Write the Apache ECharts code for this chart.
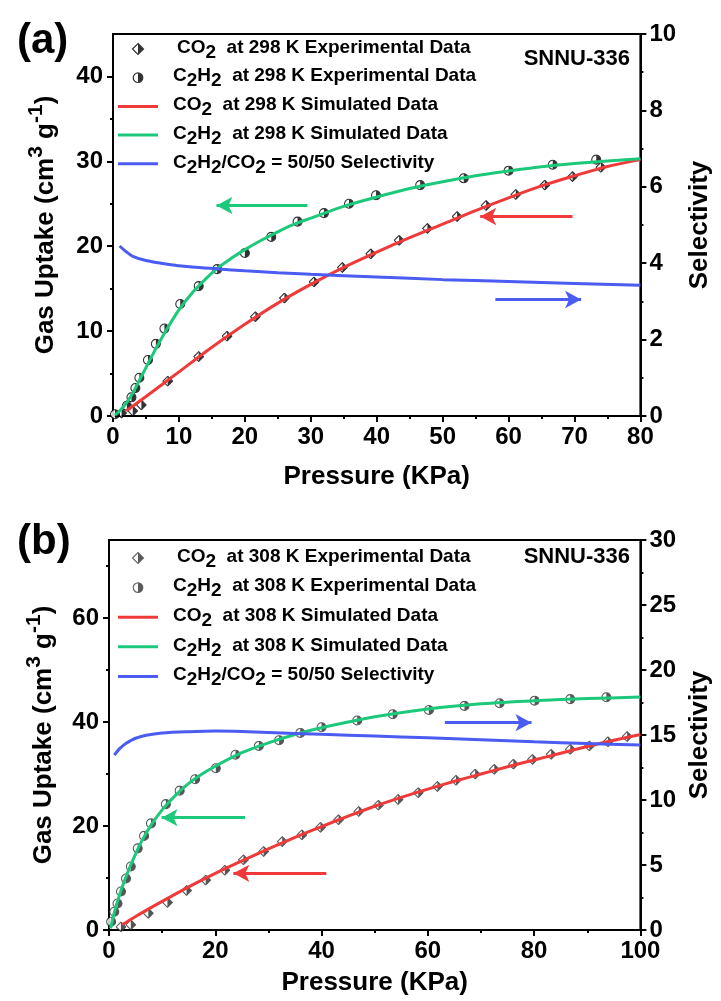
<!DOCTYPE html>
<html><head><meta charset="utf-8">
<script src="https://cdn.jsdelivr.net/npm/echarts@6/dist/echarts.min.js"></script>
<style>html,body{margin:0;padding:0;background:#fff}#c{width:721px;height:1001px}</style>
</head><body><div id="c"></div>
<script>
// ---------- Panel (a): 298 K ----------
const aCo2ExpP = [1.3, 3.0, 4.3, 8.3, 13.0, 17.3, 21.6, 26.0, 30.5, 34.8, 39.1, 43.4, 47.7, 52.2, 56.6, 61.1, 65.5, 69.7, 74.0];
const aCo2ExpU = [0.35, 0.6, 1.3, 4.1, 7.0, 9.4, 11.7, 13.9, 15.8, 17.5, 19.1, 20.7, 22.1, 23.5, 24.8, 26.1, 27.2, 28.2, 29.3];
const aC2h2ExpP = [0.3, 2.1, 2.8, 3.4, 4.0, 5.3, 6.5, 7.8, 10.2, 13.0, 15.8, 20.0, 24.0, 28.0, 32.0, 35.8, 39.9, 46.6, 53.2, 60.0, 66.7, 73.3];
const aC2h2ExpU = [0.2, 1.2, 2.2, 3.3, 4.5, 6.6, 8.5, 10.3, 13.2, 15.3, 17.3, 19.2, 21.1, 22.9, 23.9, 25.0, 26.0, 27.2, 28.0, 28.9, 29.6, 30.2];
const aCo2SimP = [2, 5, 10, 15, 20, 25, 30, 35, 40, 45, 50, 55, 60, 65, 70, 75, 80];
const aCo2SimU = [0.6, 2.3, 5.2, 8.1, 10.8, 13.3, 15.5, 17.5, 19.3, 21.0, 22.6, 24.2, 25.7, 27.1, 28.3, 29.4, 30.2];
const aC2h2SimP = [0.3, 1, 2, 3, 4, 5, 6, 8, 10, 12, 14, 16, 18, 20, 22.5, 25, 27.5, 30, 35, 40, 45, 50, 55, 60, 65, 70, 75, 80];
const aC2h2SimU = [0.1, 0.6, 1.5, 2.7, 4.2, 5.7, 7.2, 10.0, 12.5, 14.5, 16.1, 17.5, 18.6, 19.6, 20.7, 21.7, 22.6, 23.3, 24.7, 25.8, 26.8, 27.6, 28.3, 28.85, 29.35, 29.75, 30.05, 30.3];
const aSelP = [1, 2, 3, 5, 8, 12, 16, 20, 25, 30, 40, 50, 60, 70, 80];
const aSelS = [4.45, 4.3, 4.18, 4.07, 3.98, 3.9, 3.85, 3.8, 3.75, 3.71, 3.64, 3.57, 3.52, 3.47, 3.42];
// arrows: [x1, y1, x2, y2] in data units (tail -> head)
const aArrowC2h2 = [29.5, 24.8, 15.7, 24.8];
const aArrowCo2 = [69.7, 23.5, 55.7, 23.5];
const aArrowSel = [58.0, 3.05, 71.0, 3.05];

// ---------- Panel (b): 308 K ----------
const bCo2ExpP = [2.25, 4.1, 7.4, 11.0, 14.6, 18.2, 21.8, 25.3, 29.1, 32.6, 36.3, 39.8, 43.2, 47.0, 50.7, 54.4, 58.2, 61.8, 65.3, 68.9, 72.5, 76.1, 79.7, 83.2, 86.8, 90.4, 93.9, 97.5];
const bCo2ExpU = [0.6, 1.0, 3.2, 5.3, 7.6, 9.6, 11.5, 13.5, 15.1, 17.0, 18.3, 19.75, 21.2, 22.8, 24.0, 25.1, 26.4, 27.6, 28.8, 30.0, 30.9, 31.9, 32.8, 33.8, 34.75, 35.4, 36.2, 37.2];
const bC2h2ExpP = [0.4, 1.0, 1.6, 2.25, 3.2, 4.1, 5.4, 6.6, 7.9, 10.7, 13.3, 16.2, 20.1, 23.8, 28.2, 32.0, 36.0, 40.0, 46.7, 53.4, 60.2, 66.9, 73.5, 80.1, 86.8, 93.6];
const bC2h2ExpU = [1.6, 3.5, 5.1, 7.4, 9.9, 12.2, 15.7, 18.1, 20.5, 24.2, 26.8, 29.0, 31.1, 33.7, 35.4, 36.5, 37.9, 39.0, 40.3, 41.5, 42.3, 43.1, 43.6, 44.1, 44.4, 44.75];
const bCo2SimP = [2.5, 5, 10, 15, 20, 25, 30, 35, 40, 45, 50, 55, 60, 65, 70, 75, 80, 85, 90, 95, 100];
const bCo2SimU = [1.0, 2.6, 5.5, 8.3, 10.9, 13.3, 15.6, 17.8, 19.9, 21.9, 23.8, 25.5, 27.1, 28.6, 30.0, 31.4, 32.7, 34.0, 35.3, 36.5, 37.6];
const bC2h2SimP = [0.3, 1, 2, 3, 4, 5, 6, 8, 10, 12.5, 15, 17.5, 20, 25, 30, 35, 40, 45, 50, 60, 70, 80, 90, 100];
const bC2h2SimU = [0.3, 3.4, 6.8, 9.7, 12.3, 14.6, 16.8, 20.3, 23.1, 25.9, 28.2, 30.0, 31.5, 34.1, 36.0, 37.6, 38.9, 40.0, 41.0, 42.5, 43.5, 44.1, 44.5, 44.8];
const bSelP = [1, 2, 3, 4, 5, 7, 10, 15, 20, 25, 30, 40, 50, 60, 70, 80, 90, 100];
const bSelS = [13.45, 13.95, 14.3, 14.55, 14.75, 14.98, 15.15, 15.25, 15.3, 15.27, 15.2, 15.05, 14.92, 14.78, 14.63, 14.48, 14.35, 14.23];
const bArrowC2h2 = [25.6, 21.6, 9.9, 21.6];
const bArrowCo2 = [40.9, 10.9, 23.4, 10.9];
const bArrowSel = [63.2, 15.95, 79.5, 15.95];

// tick labels
const aXTicks = [0, 10, 20, 30, 40, 50, 60, 70, 80];
const aYTicks = [0, 10, 20, 30, 40];
const aYMinor = [5, 15, 25, 35];
const bXTicks = [0, 20, 40, 60, 80, 100];
const bYTicks = [0, 20, 40, 60];
const bYMinor = [10, 30, 50, 70];

// legend names
const legA = ['CO2 at 298 K Experimental Data', 'C2H2 at 298 K Experimental Data', 'CO2 at 298 K Simulated Data', 'C2H2 at 298 K Simulated Data', 'Selectivity a'];
const legB = ['CO2 at 308 K Experimental Data', 'C2H2 at 308 K Experimental Data', 'CO2 at 308 K Simulated Data', 'C2H2 at 308 K Simulated Data', 'Selectivity b'];
const legRich = {
  'CO2 at 298 K Experimental Data': '{g| }{t|CO}{s|2}{t|  at 298 K Experimental Data}',
  'C2H2 at 298 K Experimental Data': '{h| }{t|C}{s|2}{t|H}{s|2}{t|  at 298 K Experimental Data}',
  'CO2 at 298 K Simulated Data': '{h| }{t|CO}{s|2}{t|  at 298 K Simulated Data}',
  'C2H2 at 298 K Simulated Data': '{h| }{t|C}{s|2}{t|H}{s|2}{t|  at 298 K Simulated Data}',
  'Selectivity a': '{h| }{t|C}{s|2}{t|H}{s|2}{t|/CO}{s|2}{t| = 50/50 Selectivity}',
  'CO2 at 308 K Experimental Data': '{g| }{t|CO}{s|2}{t|  at 308 K Experimental Data}',
  'C2H2 at 308 K Experimental Data': '{h| }{t|C}{s|2}{t|H}{s|2}{t|  at 308 K Experimental Data}',
  'CO2 at 308 K Simulated Data': '{h| }{t|CO}{s|2}{t|  at 308 K Simulated Data}',
  'C2H2 at 308 K Simulated Data': '{h| }{t|C}{s|2}{t|H}{s|2}{t|  at 308 K Simulated Data}',
  'Selectivity b': '{h| }{t|C}{s|2}{t|H}{s|2}{t|/CO}{s|2}{t| = 50/50 Selectivity}'
};

const FONT = '"Liberation Sans", Arial, Helvetica, sans-serif';
const RED = '#f03a3a', GREEN = '#1cc97b', BLUE = '#4a5cf2';

function zip(xs, ys) { return xs.map((x, i) => [x, ys[i]]); }
function svgUrl(inner, w, h) {
  const s = '<svg xmlns="http://www.w3.org/2000/svg" width="' + w + '" height="' + h + '" viewBox="0 0 ' + w + ' ' + h + '">' + inner + '</svg>';
  return 'image://data:image/svg+xml;charset=utf-8,' + encodeURIComponent(s);
}
function diamond(cx, cy, r, dark, edge) {
  return '<polygon points="' + cx + ',' + (cy - r) + ' ' + (cx + r) + ',' + cy + ' ' + cx + ',' + (cy + r) + ' ' + (cx - r) + ',' + cy + '" fill="#fff" stroke="' + edge + '" stroke-width="1.2"/>' +
    '<polygon points="' + cx + ',' + (cy - r) + ' ' + (cx + r) + ',' + cy + ' ' + cx + ',' + (cy + r) + '" fill="' + dark + '"/>';
}
function halfCircle(cx, cy, r, dark, edge) {
  return '<circle cx="' + cx + '" cy="' + cy + '" r="' + r + '" fill="#fff" stroke="' + edge + '" stroke-width="1.2"/>' +
    '<path d="M' + cx + ',' + (cy - r) + ' A' + r + ',' + r + ' 0 0 1 ' + cx + ',' + (cy + r) + ' Z" fill="' + dark + '"/>';
}
const symDiaA = svgUrl(diamond(6, 6, 5.3, '#000', '#000'), 12, 12);
const symCirA = svgUrl(halfCircle(6, 6, 4.9, '#000', '#000'), 12, 12);
const symDiaB = svgUrl(diamond(6, 6, 5.3, '#2a2a2a', '#333'), 12, 12);
const symCirB = svgUrl(halfCircle(6, 6, 4.9, '#2a2a2a', '#333'), 12, 12);
const legDiaA = svgUrl(diamond(20, 7, 5.5, '#000', '#000'), 40, 14);
const legCirA = svgUrl(halfCircle(20, 7, 4.8, '#000', '#000'), 40, 14);
const legDiaB = svgUrl(diamond(20, 7, 5.5, '#333', '#444'), 40, 14);
const legCirB = svgUrl(halfCircle(20, 7, 4.8, '#333', '#444'), 40, 14);
const LINE_ICON = 'path://M0,0H40V3H0Z';

const txt = { fontFamily: FONT, fontWeight: 'bold', color: '#000' };
const legendRichStyle = {
  g: { width: 14, fontSize: 19, lineHeight: 22, verticalAlign: 'top' },
  h: { width: 10, fontSize: 19, lineHeight: 22, verticalAlign: 'top' },
  t: Object.assign({ fontSize: 19, lineHeight: 22, verticalAlign: 'top' }, txt),
  s: Object.assign({ fontSize: 19, lineHeight: 22, verticalAlign: 'top', padding: [5, 0, 0, 0] }, txt)
};
const yNameRich = {
  t: Object.assign({ fontSize: 26, lineHeight: 34, verticalAlign: 'top', padding: [7, 0, 0, 0] }, txt),
  p: Object.assign({ fontSize: 21, lineHeight: 34, verticalAlign: 'top' }, txt)
};
const axLine = { show: true, lineStyle: { color: '#000', width: 2 } };
const lbl = Object.assign({ fontSize: 24 }, txt);

function xAx(grid, max, interval, gap) {
  return {
    type: 'value', gridIndex: grid, min: 0, max: max, interval: interval,
    axisLine: axLine, splitLine: { show: false },
    axisTick: { show: true, length: 6, lineStyle: { width: 2, color: '#000' } },
    minorTick: { show: true, splitNumber: 2, length: 3, lineStyle: { width: 2, color: '#000' } },
    axisLabel: Object.assign({ margin: 9 }, lbl),
    name: 'Pressure (KPa)', nameLocation: 'middle', nameGap: gap,
    nameTextStyle: Object.assign({ fontSize: 26 }, txt)
  };
}
function yLeft(grid, max, ticks, gap) {
  return {
    type: 'value', gridIndex: grid, position: 'left', min: 0, max: max,
    axisLine: axLine, splitLine: { show: false },
    axisTick: { show: true, length: 6, customValues: ticks, lineStyle: { width: 2, color: '#000' } },
    axisLabel: Object.assign({ margin: 10, customValues: ticks }, lbl),
    name: '{t|Gas Uptake (cm}{p|3}{t| g}{p|-1}{t|)}', nameLocation: 'middle', nameGap: gap, nameRotate: 90,
    nameTextStyle: { rich: yNameRich }
  };
}
function yMinor(grid, max, ticks) {
  return {
    type: 'value', gridIndex: grid, position: 'left', min: 0, max: max,
    axisLine: { show: false }, splitLine: { show: false }, axisLabel: { show: false },
    axisTick: { show: true, length: 3, customValues: ticks, lineStyle: { width: 2, color: '#000' } }
  };
}
function yRight(grid, max, interval, gap) {
  return {
    type: 'value', gridIndex: grid, position: 'right', min: 0, max: max, interval: interval,
    axisLine: axLine, splitLine: { show: false },
    axisTick: { show: true, length: 6, lineStyle: { width: 2, color: '#000' } },
    minorTick: { show: true, splitNumber: 2, length: 3, lineStyle: { width: 2, color: '#000' } },
    axisLabel: Object.assign({ margin: 9 }, lbl),
    name: 'Selectivity', nameLocation: 'middle', nameGap: gap, nameRotate: 90,
    nameTextStyle: Object.assign({ fontSize: 26 }, txt)
  };
}
function arrow(a, color) {
  return {
    silent: true, symbol: ['none', 'arrow'], symbolSize: [13, 16], label: { show: false },
    lineStyle: { color: color, width: 3, type: 'solid' },
    data: [[{ coord: [a[0], a[1]] }, { coord: [a[2], a[3]] }]]
  };
}
function scat(name, xi, yi, xs, ys, sym) {
  return { name: name, type: 'scatter', xAxisIndex: xi, yAxisIndex: yi, data: zip(xs, ys), symbol: sym, symbolSize: 11, z: 2, silent: true };
}
function line(name, xi, yi, xs, ys, color, mark) {
  return {
    name: name, type: 'line', xAxisIndex: xi, yAxisIndex: yi, data: zip(xs, ys), smooth: 0.3,
    showSymbol: false, symbol: 'none', color: color, lineStyle: { color: color, width: 3 }, z: 3, silent: true,
    markLine: mark
  };
}
function legend(names, top, gap, icons) {
  return {
    orient: 'vertical', left: 118, top: top, itemWidth: 40, itemHeight: 14, itemGap: gap,
    selectedMode: false, padding: 0,
    data: names.map((n, i) => ({ name: n, icon: icons[i] })),
    formatter: n => legRich[n],
    textStyle: { rich: legendRichStyle }
  };
}

const chart = echarts.init(document.getElementById('c'), null, { renderer: 'canvas' });
chart.setOption({
  animation: false,
  backgroundColor: '#fff',
  title: [
    { text: '(a)', left: 12, top: 15, textStyle: Object.assign({ fontSize: 42 }, txt) },
    { text: '(b)', left: 12, top: 516, textStyle: Object.assign({ fontSize: 42 }, txt) },
    { text: 'SNNU-336', right: 86, top: 43, textStyle: Object.assign({ fontSize: 22 }, txt) },
    { text: 'SNNU-336', right: 86, top: 541, textStyle: Object.assign({ fontSize: 22 }, txt) }
  ],
  grid: [
    { left: 113, top: 34, width: 534, height: 382, show: true, borderColor: '#000', borderWidth: 2, backgroundColor: 'transparent' },
    { left: 109, top: 540, width: 532, height: 390, show: true, borderColor: '#000', borderWidth: 2, backgroundColor: 'transparent' }
  ],
  legend: [
    legend(legA, 38, 4.7, [legDiaA, legCirA, LINE_ICON, LINE_ICON, LINE_ICON]),
    legend(legB, 547, 5.6, [legDiaB, legCirB, LINE_ICON, LINE_ICON, LINE_ICON])
  ],
  xAxis: [xAx(0, 80, 10, 48), xAx(1, 100, 20, 40)],
  yAxis: [
    yLeft(0, 45, aYTicks, 53), yRight(0, 10, 2, 43), yMinor(0, 45, aYMinor),
    yLeft(1, 75, bYTicks, 51), yRight(1, 30, 5, 43), yMinor(1, 75, bYMinor)
  ],
  series: [
    scat(legA[0], 0, 0, aCo2ExpP, aCo2ExpU, symDiaA),
    scat(legA[1], 0, 0, aC2h2ExpP, aC2h2ExpU, symCirA),
    line(legA[2], 0, 0, aCo2SimP, aCo2SimU, RED, arrow(aArrowCo2, RED)),
    line(legA[3], 0, 0, aC2h2SimP, aC2h2SimU, GREEN, arrow(aArrowC2h2, GREEN)),
    line(legA[4], 0, 1, aSelP, aSelS, BLUE, arrow(aArrowSel, BLUE)),
    scat(legB[0], 1, 3, bCo2ExpP, bCo2ExpU, symDiaB),
    scat(legB[1], 1, 3, bC2h2ExpP, bC2h2ExpU, symCirB),
    line(legB[2], 1, 3, bCo2SimP, bCo2SimU, RED, arrow(bArrowCo2, RED)),
    line(legB[3], 1, 3, bC2h2SimP, bC2h2SimU, GREEN, arrow(bArrowC2h2, GREEN)),
    line(legB[4], 1, 4, bSelP, bSelS, BLUE, arrow(bArrowSel, BLUE))
  ]
});
</script></body></html>
